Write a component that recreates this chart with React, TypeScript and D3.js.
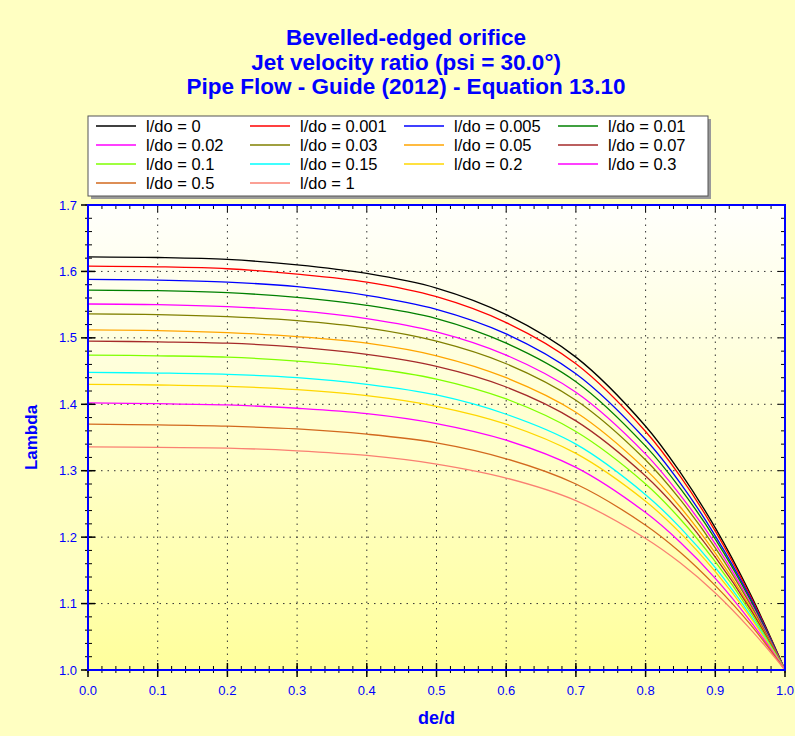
import React, { useEffect, useRef } from "react";
import * as d3 from "d3";

const deRatio = [0, 0.1, 0.2, 0.3, 0.4, 0.5, 0.6, 0.7, 0.8, 0.85, 0.9, 0.95, 1.0];

const lDo0 = [1.622, 1.621, 1.618, 1.61, 1.597, 1.575, 1.535, 1.471, 1.367, 1.297, 1.214, 1.115, 1.0];
const lDo0001 = [1.608, 1.607, 1.604, 1.596, 1.584, 1.562, 1.523, 1.461, 1.359, 1.291, 1.209, 1.112, 1.0];
const lDo0005 = [1.588, 1.587, 1.584, 1.577, 1.564, 1.543, 1.506, 1.446, 1.347, 1.281, 1.202, 1.109, 1.0];
const lDo001 = [1.572, 1.571, 1.568, 1.561, 1.549, 1.529, 1.492, 1.434, 1.337, 1.273, 1.197, 1.106, 1.0];
const lDo002 = [1.551, 1.55, 1.547, 1.541, 1.529, 1.509, 1.474, 1.418, 1.325, 1.263, 1.19, 1.102, 1.0];
const lDo003 = [1.536, 1.535, 1.532, 1.526, 1.515, 1.495, 1.461, 1.406, 1.316, 1.256, 1.184, 1.099, 1.0];
const lDo005 = [1.512, 1.511, 1.508, 1.502, 1.492, 1.473, 1.44, 1.388, 1.302, 1.245, 1.176, 1.095, 1.0];
const lDo007 = [1.495, 1.494, 1.492, 1.486, 1.475, 1.457, 1.426, 1.375, 1.292, 1.237, 1.17, 1.092, 1.0];
const lDo01 = [1.474, 1.473, 1.471, 1.465, 1.455, 1.438, 1.408, 1.359, 1.28, 1.227, 1.163, 1.088, 1.0];
const lDo015 = [1.448, 1.447, 1.445, 1.44, 1.43, 1.414, 1.385, 1.34, 1.264, 1.214, 1.154, 1.083, 1.0];
const lDo02 = [1.43, 1.429, 1.427, 1.422, 1.413, 1.397, 1.37, 1.326, 1.254, 1.206, 1.148, 1.08, 1.0];
const lDo03 = [1.402, 1.401, 1.399, 1.394, 1.386, 1.371, 1.346, 1.305, 1.237, 1.192, 1.138, 1.074, 1.0];
const lDo05 = [1.37, 1.369, 1.367, 1.363, 1.355, 1.342, 1.318, 1.28, 1.218, 1.177, 1.127, 1.069, 1.0];
const lDo1 = [1.336, 1.335, 1.334, 1.33, 1.323, 1.31, 1.289, 1.255, 1.198, 1.161, 1.116, 1.062, 1.0];

const seriesLabels = [
  "l/do = 0", "l/do = 0.001", "l/do = 0.005", "l/do = 0.01",
  "l/do = 0.02", "l/do = 0.03", "l/do = 0.05", "l/do = 0.07",
  "l/do = 0.1", "l/do = 0.15", "l/do = 0.2", "l/do = 0.3",
  "l/do = 0.5", "l/do = 1",
];
const seriesColors = [
  "#000000", "#ff0000", "#0000ff", "#008000",
  "#ff00ff", "#808000", "#ffa500", "#a52a2a",
  "#7fff00", "#00ffff", "#ffd700", "#ff00ff",
  "#d2691e", "#fa8072",
];
const seriesValues = [lDo0, lDo0001, lDo0005, lDo001, lDo002, lDo003, lDo005, lDo007, lDo01, lDo015, lDo02, lDo03, lDo05, lDo1];

const titleLines = [
  "Bevelled-edged orifice",
  "Jet velocity ratio (psi = 30.0°)",
  "Pipe Flow - Guide (2012) - Equation 13.10",
];

const xTicks = [0, 0.1, 0.2, 0.3, 0.4, 0.5, 0.6, 0.7, 0.8, 0.9, 1.0];
const yTicks = [1.0, 1.1, 1.2, 1.3, 1.4, 1.5, 1.6, 1.7];

const W = 795;
const H = 736;
const FONT = "'Liberation Sans', Arial, sans-serif";
const BLUE = "#0000ff";

function Chart() {
  const svgRef = useRef<SVGSVGElement>(null);

  useEffect(() => {
    const svg = d3.select(svgRef.current);
    svg.selectAll("*").remove();

    const margin = { top: 205, right: 10, bottom: 66, left: 88 };
    const w = W - margin.left - margin.right;
    const h = H - margin.top - margin.bottom;

    const defs = svg.append("defs");
    const grad = defs.append("linearGradient")
      .attr("id", "plotBg")
      .attr("x1", 0).attr("y1", 0).attr("x2", 0).attr("y2", 1);
    grad.append("stop").attr("offset", "0%").attr("stop-color", "#fffffc");
    grad.append("stop").attr("offset", "100%").attr("stop-color", "#ffff9c");

    // outer background
    svg.append("rect")
      .attr("width", W).attr("height", H)
      .attr("fill", "#ffffc2");

    // titles
    svg.append("g")
      .selectAll("text")
      .data(titleLines)
      .join("text")
      .attr("x", 406)
      .attr("y", (d, i) => 45 + i * 24.5)
      .attr("text-anchor", "middle")
      .style("font-family", FONT)
      .style("font-weight", "bold")
      .style("font-size", "22.5px")
      .attr("fill", BLUE)
      .text(d => d);

    const g = svg.append("g")
      .attr("transform", `translate(${margin.left}, ${margin.top})`);

    const x_scale = d3.scaleLinear().domain([0, 1]).range([0, w]);
    const y_scale = d3.scaleLinear().domain([1.0, 1.7]).range([h, 0]);

    g.append("rect")
      .attr("width", w).attr("height", h)
      .attr("fill", "url(#plotBg)");

    // dotted grid
    g.append("g")
      .selectAll("line")
      .data(xTicks.slice(1, -1))
      .join("line")
      .attr("x1", d => x_scale(d)).attr("x2", d => x_scale(d))
      .attr("y1", 0).attr("y2", h)
      .attr("stroke", "#333")
      .attr("stroke-width", 1)
      .attr("stroke-dasharray", "1.5 5");
    g.append("g")
      .selectAll("line")
      .data(yTicks.slice(1, -1))
      .join("line")
      .attr("y1", d => y_scale(d)).attr("y2", d => y_scale(d))
      .attr("x1", 0).attr("x2", w)
      .attr("stroke", "#333")
      .attr("stroke-width", 1)
      .attr("stroke-dasharray", "1.5 5");

    // curves
    const line = d3.line<number>()
      .x((d, i) => x_scale(deRatio[i]))
      .y(d => y_scale(d))
      .curve(d3.curveCatmullRom.alpha(0.5));

    g.append("g")
      .selectAll("path")
      .data(seriesValues)
      .join("path")
      .attr("d", d => line(d))
      .attr("fill", "none")
      .attr("stroke", (d, i) => seriesColors[i])
      .attr("stroke-width", 1.3);

    // axes: major ticks cross the line, minor ticks smaller
    const minorX = d3.range(0, 51).map(i => i / 50);
    const minorY = d3.range(0, 36).map(i => 1 + i / 50);

    const bottomAxis = g.append("g").attr("transform", `translate(0, ${h})`);
    bottomAxis.selectAll("line.minor")
      .data(minorX)
      .join("line")
      .attr("class", "minor")
      .attr("x1", d => x_scale(d)).attr("x2", d => x_scale(d))
      .attr("y1", -4).attr("y2", 3)
      .attr("stroke", "#000").attr("stroke-width", 1);
    bottomAxis.selectAll("line.major")
      .data(xTicks)
      .join("line")
      .attr("class", "major")
      .attr("x1", d => x_scale(d)).attr("x2", d => x_scale(d))
      .attr("y1", -7).attr("y2", 7)
      .attr("stroke", "#000").attr("stroke-width", 1.5);
    bottomAxis.selectAll("text")
      .data(xTicks)
      .join("text")
      .attr("x", d => x_scale(d))
      .attr("y", 25)
      .attr("text-anchor", "middle")
      .style("font-family", FONT)
      .style("font-size", "13px")
      .attr("fill", BLUE)
      .text(d => d.toFixed(1));

    const leftAxis = g.append("g");
    leftAxis.selectAll("line.minor")
      .data(minorY)
      .join("line")
      .attr("class", "minor")
      .attr("y1", d => y_scale(d)).attr("y2", d => y_scale(d))
      .attr("x1", -3).attr("x2", 4)
      .attr("stroke", "#000").attr("stroke-width", 1);
    leftAxis.selectAll("line.major")
      .data(yTicks)
      .join("line")
      .attr("class", "major")
      .attr("y1", d => y_scale(d)).attr("y2", d => y_scale(d))
      .attr("x1", -7).attr("x2", 7)
      .attr("stroke", "#000").attr("stroke-width", 1.5);
    leftAxis.selectAll("text")
      .data(yTicks)
      .join("text")
      .attr("x", -11)
      .attr("y", d => y_scale(d) + 4.5)
      .attr("text-anchor", "end")
      .style("font-family", FONT)
      .style("font-size", "13px")
      .attr("fill", BLUE)
      .text(d => d.toFixed(1));

    // top and right axes, ticks pointing inward
    const topAxis = g.append("g");
    topAxis.selectAll("line")
      .data(minorX)
      .join("line")
      .attr("x1", d => x_scale(d)).attr("x2", d => x_scale(d))
      .attr("y1", 0).attr("y2", (d, i) => (i % 5 === 0 ? 7 : 4))
      .attr("stroke", "#000").attr("stroke-width", 1);
    const rightAxis = g.append("g");
    rightAxis.selectAll("line")
      .data(minorY)
      .join("line")
      .attr("y1", d => y_scale(d)).attr("y2", d => y_scale(d))
      .attr("x1", w).attr("x2", (d, i) => (i % 5 === 0 ? w - 7 : w - 4))
      .attr("stroke", "#000").attr("stroke-width", 1);

    g.append("rect")
      .attr("width", w).attr("height", h)
      .attr("fill", "none")
      .attr("stroke", BLUE)
      .attr("stroke-width", 2);

    // axis labels
    svg.append("text")
      .attr("x", margin.left + w / 2)
      .attr("y", 724)
      .attr("text-anchor", "middle")
      .style("font-family", FONT)
      .style("font-weight", "bold")
      .style("font-size", "18px")
      .attr("fill", BLUE)
      .text("de/d");

    svg.append("text")
      .attr("transform", `translate(37, ${margin.top + h / 2}) rotate(-90)`)
      .attr("text-anchor", "middle")
      .style("font-family", FONT)
      .style("font-weight", "bold")
      .style("font-size", "17px")
      .attr("fill", BLUE)
      .text("Lambda");

    // legend
    const lx = 88, ly = 116, lw = 620, lh = 80;
    svg.append("rect")
      .attr("x", lx + 3).attr("y", ly + 3)
      .attr("width", lw).attr("height", lh)
      .attr("fill", "#9a9a9a");
    svg.append("rect")
      .attr("x", lx).attr("y", ly)
      .attr("width", lw).attr("height", lh)
      .attr("fill", "#ffffff")
      .attr("stroke", "#555")
      .attr("stroke-width", 1);

    const items = svg.append("g")
      .selectAll("g")
      .data(seriesLabels)
      .join("g")
      .attr("transform", (d, i) => `translate(${lx + 8 + (i % 4) * 154}, ${ly + 10 + Math.floor(i / 4) * 19})`);
    items.append("line")
      .attr("x1", 0).attr("x2", 40)
      .attr("y1", 0).attr("y2", 0)
      .attr("stroke", (d, i) => seriesColors[i])
      .attr("stroke-width", 1.3);
    items.append("text")
      .attr("x", 50)
      .attr("y", 6)
      .style("font-family", FONT)
      .style("font-size", "16.5px")
      .attr("fill", "#000")
      .text(d => d);
  }, []);

  return (
    <svg
      ref={svgRef}
      width={W}
      height={H}
      style={{ position: "absolute", left: 0, top: 0, display: "block" }}
    />
  );
}

export default function App() {
  return <Chart />;
}
